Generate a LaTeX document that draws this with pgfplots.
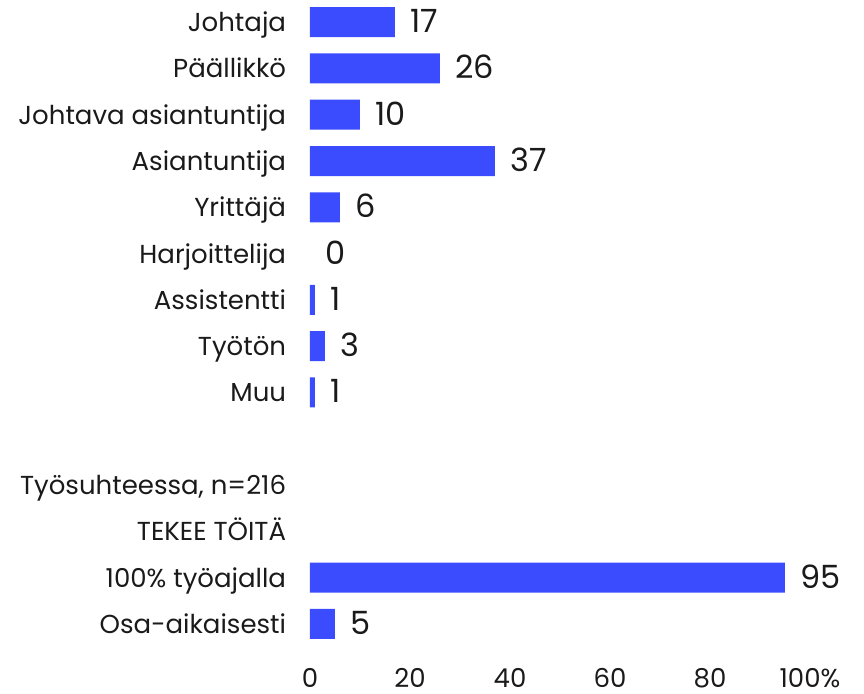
\documentclass[border=0pt]{standalone}
\usepackage{pgfplots}
\pgfplotsset{compat=1.18}
\usepackage{fontspec}
\setmainfont{Poppins}
\definecolor{barblue}{RGB}{59,76,255}
\definecolor{txt}{RGB}{26,26,26}
\begin{document}
\begin{tikzpicture}
\path[use as bounding box] (0,0) rectangle (432pt,-347pt);
\begin{axis}[
  at={(155pt,-323.5pt)}, anchor=south west,
  scale only axis, width=250pt, height=324pt,
  xbar, bar width=15pt, bar shift=0pt,
  xmin=0, xmax=100, ymin=-0.5, ymax=13.5, y dir=reverse,
  axis line style={draw=none}, tick style={draw=none},
  xtick={0,20,40,60,80,100}, xticklabels={0,20,40,60,80,100\%},
  ytick={0,...,13},
  yticklabels={Johtaja,Päällikkö,Johtava asiantuntija,Asiantuntija,Yrittäjä,Harjoittelija,Assistentti,Työtön,Muu,{},{Työsuhteessa, n=216},TEKEE TÖITÄ,100\% työajalla,Osa-aikaisesti},
  /pgf/number format/assume math mode=true,
  tick label style={font=\fontsize{13}{15}\selectfont, text=txt, inner sep=0pt},
  xticklabel style={anchor=base, yshift=-20pt},
  yticklabel style={anchor=mid east, xshift=-7.5pt, yshift=-2pt},
  nodes near coords,
  nodes near coords style={font=\fontsize{16}{19}\selectfont, anchor=mid west, inner sep=0pt, xshift=7.5pt, yshift=-2.5pt, text=txt},
]
\addplot[fill=barblue, draw=none] coordinates {
  (17,0) (26,1) (10,2) (37,3) (6,4) (1,6) (3,7) (1,8) (95,12) (5,13)};
\addplot[fill=none, draw=none] coordinates {(0,5)};
\end{axis}
\end{tikzpicture}
\end{document}
